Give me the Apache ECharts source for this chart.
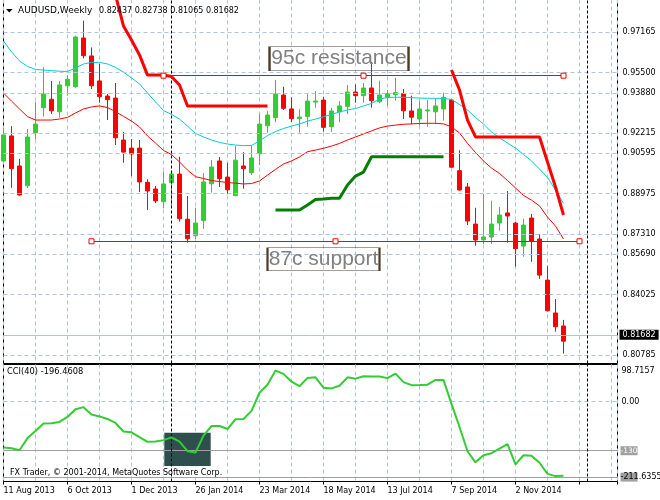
<!DOCTYPE html>
<html>
<head>
<meta charset="utf-8">
<script src="https://cdn.jsdelivr.net/npm/echarts@6/dist/echarts.min.js"></script>
<style>
html,body{margin:0;padding:0;background:#fff;}
#chart{width:660px;height:500px;}
</style>
</head>
<body>
<div id="chart"></div>
<script>
// ---------------- data ----------------
const dateTicks = ['11 Aug 2013','6 Oct 2013','1 Dec 2013','26 Jan 2014','23 Mar 2014','18 May 2014','13 Jul 2014','7 Sep 2014','2 Nov 2014'];
const priceTicks = ['0.97165','0.95500','0.93880','0.92215','0.90595','0.88975','0.87310','0.85690','0.84025','0.82405','0.80785'];

const openP = [
0.9062,0.9186,0.9037,0.8939,0.9202,0.9326,0.9368,0.9306,0.9435,0.9430,
0.9672,0.9583,0.9459,0.9384,0.9374,0.9166,0.9126,0.9126,0.8956,0.8923,
0.8860,0.8954,0.8997,0.8773,0.8691,0.8766,0.8949,0.9062,0.8982,0.8890,
0.9037,0.9004,0.9098,0.9237,0.9277,0.9389,0.9320,0.9272,0.9282,0.9354,
0.9364,0.9232,0.9306,0.9333,0.9404,0.9386,0.9424,0.9356,0.9378,0.9391,
0.9396,0.9310,0.9270,0.9310,0.9306,0.9320,0.9364,0.9014,0.8933,0.8749,
0.8671,0.8685,0.8754,0.8804,0.8754,0.8640,0.8779,0.8675,0.8471,0.8308,
0.82437];
const highP = [
0.9226,0.9235,0.9072,0.9221,0.9354,0.9527,0.9459,0.9459,0.9488,0.9683,
0.9758,0.9625,0.9543,0.9394,0.9449,0.9206,0.9171,0.9166,0.8971,0.8938,
0.9009,0.9007,0.9083,0.8888,0.8830,0.9002,0.9067,0.9082,0.9052,0.9136,
0.9106,0.9138,0.9295,0.9311,0.9464,0.9430,0.9378,0.9318,0.9393,0.9409,
0.9381,0.9326,0.9359,0.9439,0.9442,0.9449,0.9553,0.9460,0.9414,0.9474,
0.9419,0.9386,0.9359,0.9364,0.9373,0.9401,0.9368,0.9115,0.8953,0.8830,
0.8898,0.8865,0.8834,0.8913,0.8761,0.8776,0.8799,0.8700,0.8542,0.8377,
0.82738];
const lowP = [
0.9057,0.8929,0.8890,0.8928,0.9169,0.9282,0.9295,0.9277,0.9386,0.9425,
0.9571,0.9419,0.9351,0.9265,0.9141,0.9053,0.8987,0.8908,0.8819,0.8853,
0.8827,0.8839,0.8761,0.8657,0.8675,0.8725,0.8905,0.8933,0.8897,0.8888,
0.8924,0.8992,0.9041,0.9202,0.9254,0.9315,0.9255,0.9202,0.9232,0.9326,
0.9207,0.9207,0.9254,0.9295,0.9351,0.9351,0.9326,0.9348,0.9335,0.9361,
0.9270,0.9244,0.9237,0.9232,0.9245,0.9262,0.9029,0.8916,0.8744,0.8642,
0.8650,0.8650,0.8716,0.8657,0.8538,0.8587,0.8562,0.8477,0.8316,0.8215,
0.81065];
const closeP = [
0.9191,0.9024,0.8893,0.9181,0.9245,0.9394,0.9311,0.9439,0.9467,0.9677,
0.9584,0.9435,0.9381,0.9366,0.9177,0.9106,0.9097,0.8958,0.8913,0.8864,
0.8948,0.8997,0.8776,0.8676,0.8754,0.8958,0.9032,0.8974,0.8919,0.9066,
0.9024,0.9077,0.9245,0.9290,0.9394,0.9323,0.9272,0.9280,0.9359,0.9359,
0.9229,0.9310,0.9335,0.9404,0.9386,0.9424,0.9361,0.9389,0.9396,0.9401,
0.9311,0.9279,0.9320,0.9315,0.9335,0.9378,0.9031,0.8918,0.8764,0.8670,
0.8685,0.8749,0.8794,0.8789,0.8627,0.8744,0.8664,0.8496,0.8319,0.8240,
0.81682];

const maFast = [
0.9657,0.9603,0.9558,0.9531,0.9516,0.9513,0.9510,0.9507,0.9506,0.9523,
0.9543,0.9551,0.9551,0.9543,0.9526,0.9503,0.9474,0.9444,0.9399,0.9355,
0.9312,0.9293,0.9270,0.9235,0.9199,0.9181,0.9166,0.9154,0.9146,0.9141,
0.9138,0.9139,0.9161,0.9188,0.9208,0.9223,0.9235,0.9245,0.9260,0.9270,
0.9281,0.9293,0.9305,0.9315,0.9322,0.9335,0.9347,0.9369,0.9377,0.9378,
0.9378,0.9376,0.9374,0.9373,0.9373,0.9372,0.9367,0.9342,0.9315,0.9278,
0.9245,0.9206,0.9176,0.9151,0.9126,0.9094,0.9062,0.9022,0.8980,0.8918,
0.8852];
const maSlow = [
0.9399,0.9359,0.9320,0.9282,0.9265,0.9265,0.9265,0.9270,0.9278,0.9300,
0.9320,0.9330,0.9335,0.9327,0.9307,0.9283,0.9260,0.9231,0.9186,0.9151,
0.9114,0.9094,0.9057,0.9017,0.8984,0.8975,0.8965,0.8960,0.8955,0.8952,
0.8948,0.8950,0.8963,0.8992,0.9020,0.9047,0.9062,0.9082,0.9108,0.9116,
0.9125,0.9136,0.9149,0.9166,0.9181,0.9196,0.9211,0.9226,0.9235,0.9240,
0.9244,0.9246,0.9248,0.9249,0.9249,0.9246,0.9231,0.9201,0.9149,0.9104,
0.9062,0.9027,0.9000,0.8965,0.8928,0.8891,0.8868,0.8839,0.8784,0.8739,
0.8675];
const stopLine = [
null,null,null,null,null,null,null,null,null,null,
null,null,null,null,0.9885,0.9731,0.9662,0.9588,0.9488,0.9488,
0.9488,0.9481,0.9439,0.9335,0.9335,0.9335,0.9335,0.9335,0.9335,0.9335,
0.9335,0.9335,0.9335,0.9335,null,null,null,null,null,null,
null,null,null,null,null,null,null,null,null,null,
null,null,null,null,null,null,0.9513,0.9414,0.9265,0.9181,
0.9181,0.9181,0.9181,0.9181,0.9181,0.9181,0.9181,0.9181,0.9057,0.8933,
0.8794];
const supportTrail = [
null,null,null,null,null,null,null,null,null,null,
null,null,null,null,null,null,null,null,null,null,
null,null,null,null,null,null,null,null,null,null,
null,null,null,null,0.8819,0.8819,0.8819,0.8819,0.8844,0.8871,
0.8873,0.8877,0.8877,0.8943,0.8987,0.9007,0.9083,0.9083,0.9083,0.9083,
0.9083,0.9083,0.9083,0.9083,0.9083,0.9083,null,null,null,null,
null,null,null,null,null,null,null,null,null,null,
null];
const cci = [
-121.4,-123.3,-128.6,-96.5,-77.8,-57.8,-57.2,-53.7,-40.4,-19.8,
-14.4,-33.7,-39.0,-45.7,-56.4,-79.1,-81.3,-93.9,-106.4,-105.3,
-101.9,-94.7,-105.9,-131.3,-134.8,-89.8,-64.4,-64.4,-72.5,-46.5,
-45.7,-24.3,23.8,45.2,82.6,73.8,53.2,41.2,63.1,64.7,
37.2,35.3,42.5,64.7,61.2,67.4,66.6,66.6,62.6,74.6,
51.9,43.9,44.4,45.2,57.8,57.8,-5.6,-67.1,-131.3,-160.7,
-142.0,-136.6,-124.6,-112.6,-166.0,-142.0,-143.3,-162.0,-191.4,-197.3,
-196.4608];
const cciLevels = [-130, -200];
const cciRange = [-211.6355, 98.7157];
const resistance = {price: 0.9485, from: 20, to: 70};
const support = {price: 0.86636, from: 11, to: 72};
const markerBars = [21, 73];
const cciBox = {from: 20.1, to: 25.9, top: -82.4, bottom: -170.6};
const notes = [
  {text: '95c resistance', bar: 41.94, price: 0.95693},
  {text: '87c support', bar: 40.0, price: 0.85748}
];

// ---------------- chart ----------------
const FONT = 'DejaVu Sans';
const X_MAX = 76.75;
const last = openP.length - 1;
const pairs = arr => arr.map((v, i) => [i, v == null ? '-' : v]);
const GRIDC = '#b0c4de';
const CLEAR = 'rgba(0,0,0,0)';

const noteSize = {'95c resistance': [139, 24], '87c support': [112, 23]};

function xAx(grid, interval, extra) {
  return Object.assign({
    gridIndex: grid, type: 'value', min: 0, max: X_MAX, interval: interval,
    axisLine: {show: false, onZero: false},
    axisTick: {show: false},
    axisLabel: {show: false},
    splitLine: {show: true, lineStyle: {color: GRIDC, type: [4, 3], width: 1}}
  }, extra || {});
}

const option = {
  animation: false,
  backgroundColor: '#fff',
  grid: [
    {left: 3.5, right: 42.5, top: -0.5, height: 364, show: true, borderColor: '#000', borderWidth: 1, outerBoundsMode: 'none'},
    {left: 3.5, right: 42.5, top: 364.5, height: 117, show: true, borderColor: '#000', borderWidth: 1, outerBoundsMode: 'none'}
  ],
  xAxis: [
    xAx(0, 4),
    xAx(1, 4),
    xAx(1, 8, {
      position: 'bottom',
      splitLine: {show: false},
      axisTick: {show: true, length: 3, lineStyle: {color: '#000', width: 1}},
      axisLabel: {
        show: true, align: 'left', margin: 5, color: '#000', fontFamily: FONT, fontSize: 8,
        formatter: v => (v % 8 === 0 && v / 8 < dateTicks.length) ? dateTicks[v / 8] : ''
      }
    })
  ],
  yAxis: [
    {gridIndex: 0, type: 'value', min: 0.805744, max: 0.986288, show: false, splitLine: {show: false}},
    {gridIndex: 1, type: 'value', min: cciRange[0], max: cciRange[1], show: false, splitLine: {show: false}}
  ],
  series: [
    // main panel horizontal grid + price scale labels
    {
      type: 'line', xAxisIndex: 0, yAxisIndex: 0, data: [], z: 1, silent: true,
      markLine: {
        silent: true, symbol: ['none', 'none'], animation: false,
        lineStyle: {color: GRIDC, type: [4, 3], width: 1},
        label: {position: 'end', distance: 5, formatter: '{b}', color: '#000', fontFamily: FONT, fontSize: 8},
        emphasis: {disabled: true},
        data: priceTicks.map(t => ({yAxis: parseFloat(t), name: t}))
      }
    },
    // last price line
    {
      type: 'line', xAxisIndex: 0, yAxisIndex: 0, data: [], z: 2, silent: true,
      markLine: {
        silent: true, symbol: ['none', 'none'], animation: false,
        lineStyle: {color: GRIDC, type: 'solid', width: 1},
        label: {position: 'end', distance: 2, formatter: '{b}', color: '#fff', backgroundColor: '#000',
                padding: [1, 3, 0, 3], lineHeight: 9, fontFamily: FONT, fontSize: 8},
        emphasis: {disabled: true},
        data: [{yAxis: closeP[last], name: closeP[last].toFixed(5)}]
      }
    },
    // vertical dashed markers (main)
    {
      type: 'line', xAxisIndex: 0, yAxisIndex: 0, data: [], z: 2, silent: true,
      markLine: {
        silent: true, symbol: ['none', 'none'], animation: false,
        lineStyle: {color: '#000', type: [3, 2], width: 1},
        label: {show: false}, emphasis: {disabled: true},
        data: markerBars.map(b => ({xAxis: b}))
      }
    },
    // candles
    {
      type: 'candlestick', xAxisIndex: 0, yAxisIndex: 0, z: 3, barWidth: 4, clip: true,
      encode: {x: 0, y: [1, 2, 3, 4]},
      itemStyle: {color: '#32cd32', color0: '#ff0000', borderColor: '#32cd32', borderColor0: '#ff0000', borderWidth: 1},
      data: openP.map((o, i) => [i, o, closeP[i], lowP[i], highP[i]])
    },
    {
      type: 'line', xAxisIndex: 0, yAxisIndex: 0, z: 4, data: pairs(maFast), symbol: 'none', showSymbol: false,
      lineStyle: {color: '#00ced1', width: 1}, itemStyle: {color: '#00ced1'}
    },
    {
      type: 'line', xAxisIndex: 0, yAxisIndex: 0, z: 4, data: pairs(maSlow), symbol: 'none', showSymbol: false,
      lineStyle: {color: '#ff0000', width: 1}, itemStyle: {color: '#ff0000'}
    },
    {
      type: 'line', xAxisIndex: 0, yAxisIndex: 0, z: 5, data: pairs(stopLine), symbol: 'none', showSymbol: false,
      connectNulls: false, clip: true,
      lineStyle: {color: '#ff0000', width: 3}, itemStyle: {color: '#ff0000'}
    },
    {
      type: 'line', xAxisIndex: 0, yAxisIndex: 0, z: 5, data: pairs(supportTrail), symbol: 'none', showSymbol: false,
      connectNulls: false,
      lineStyle: {color: '#008000', width: 3}, itemStyle: {color: '#008000'}
    },
    // trend lines + text notes
    {
      type: 'line', xAxisIndex: 0, yAxisIndex: 0, data: [], z: 6, silent: true,
      markLine: {
        silent: true, symbol: ['none', 'none'], animation: false,
        lineStyle: {color: '#ff0000', type: 'solid', width: 1},
        label: {show: false}, emphasis: {disabled: true},
        data: [resistance, support].map(t => [{coord: [t.from, t.price]}, {coord: [t.to, t.price]}])
      },
      markPoint: {
        silent: true, animation: false,
        data: notes.map(n => ({
          coord: [n.bar, n.price], symbol: 'rect', symbolSize: noteSize[n.text],
          itemStyle: {color: CLEAR, borderColor: '#4a3c28', borderWidth: 1},
          label: {show: true, position: 'inside', formatter: n.text, color: '#808080',
                  fontSize: 21, fontFamily: 'Liberation Sans'}
        }))
      }
    },
    {
      type: 'scatter', xAxisIndex: 0, yAxisIndex: 0, z: 7, silent: true,
      symbol: 'rect', symbolSize: 5,
      itemStyle: {color: '#fff', borderColor: '#ff0000', borderWidth: 1, opacity: 1},
      data: [resistance, support].flatMap(t => [[t.from, t.price], [(t.from + t.to) / 2, t.price], [t.to, t.price]])
    },
    // CCI panel: rectangle object
    {
      type: 'line', xAxisIndex: 1, yAxisIndex: 1, data: [], z: 1, silent: true,
      markArea: {
        silent: true, animation: false,
        itemStyle: {color: '#2f4f4f', opacity: 1},
        data: [[{coord: [cciBox.from, cciBox.top]}, {coord: [cciBox.to, cciBox.bottom]}]]
      }
    },
    // CCI levels
    {
      type: 'line', xAxisIndex: 1, yAxisIndex: 1, data: [], z: 2, silent: true,
      markLine: {
        silent: true, symbol: ['none', 'none'], animation: false,
        lineStyle: {color: '#a0a0a0', type: 'solid', width: 1},
        label: {position: 'end', distance: 3, formatter: '{b}', color: '#fff', backgroundColor: '#a0a0a0',
                padding: [1, 0, 0, 0], lineHeight: 8, fontFamily: FONT, fontSize: 7.5},
        emphasis: {disabled: true},
        data: [
          {yAxis: 0, name: '0.00', lineStyle: {color: GRIDC, type: [4, 3]},
           label: {color: '#000', backgroundColor: CLEAR, distance: 4, fontSize: 8, padding: 0}},
          {yAxis: cciLevels[0], name: String(cciLevels[0])},
          {yAxis: cciLevels[1], name: String(cciLevels[1]), label: {color: '#a0a0a0'}}
        ]
      }
    },
    // vertical dashed markers (CCI)
    {
      type: 'line', xAxisIndex: 1, yAxisIndex: 1, data: [], z: 3, silent: true,
      markLine: {
        silent: true, symbol: ['none', 'none'], animation: false,
        lineStyle: {color: '#000', type: [3, 2], width: 1},
        label: {show: false}, emphasis: {disabled: true},
        data: markerBars.map(b => ({xAxis: b}))
      }
    },
    // CCI line
    {
      type: 'line', xAxisIndex: 1, yAxisIndex: 1, z: 5, data: pairs(cci), symbol: 'none', showSymbol: false,
      lineStyle: {color: '#32cd32', width: 2}, itemStyle: {color: '#32cd32'}
    }
  ],
  graphic: [
    {type: 'polygon', z: 100, shape: {points: [[6, 9], [12.5, 9], [9.25, 12.5]]}, style: {fill: '#000'}},
    {type: 'text', z: 100, x: 18, y: 6, style: {text: 'AUDUSD,Weekly', font: '9px "DejaVu Sans"', fill: '#000'}},
    {type: 'text', z: 100, x: 99, y: 7, style: {
      text: [openP[last], highP[last], lowP[last], closeP[last]].map(v => v.toFixed(5)).join(' '),
      font: '8px "DejaVu Sans"', fill: '#000'}},
    {type: 'text', z: 100, x: 7, y: 368, style: {text: 'CCI(40) ' + cci[last].toFixed(4), font: '8.3px "DejaVu Sans"', fill: '#000'}},
    {type: 'text', z: 100, x: 10, y: 469, style: {text: 'FX Trader, \u00a9 2001-2014, MetaQuotes Software Corp.', font: '8px "DejaVu Sans"', fill: '#000'}}
  ]
};

const chart = echarts.init(document.getElementById('chart'), null, {renderer: 'canvas'});
chart.setOption(option);

// CCI scale extreme labels, placed through the CCI axes
const topPt = chart.convertToPixel({xAxisIndex: 1, yAxisIndex: 1}, [X_MAX, cciRange[1]]);
const botPt = chart.convertToPixel({xAxisIndex: 1, yAxisIndex: 1}, [X_MAX, cciRange[0]]);
chart.setOption({
  graphic: [
    {type: 'text', id: 'cciMax', z: 100, x: topPt[0] + 4, y: topPt[1] + 2.5,
     style: {text: String(cciRange[1]), font: '8px "DejaVu Sans"', fill: '#000'}},
    {type: 'text', id: 'cciMin', z: 100, x: botPt[0] + 3, y: botPt[1] - 8.5,
     style: {text: String(cciRange[0]), font: '8px "DejaVu Sans"', fill: '#000'}}
  ]
});
</script>
</body>
</html>
